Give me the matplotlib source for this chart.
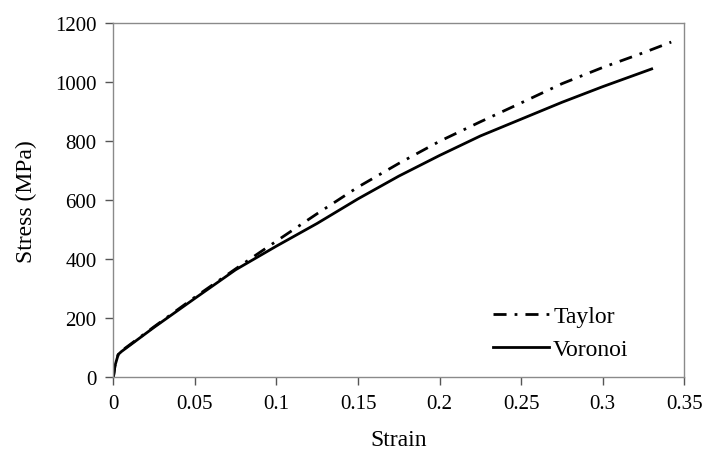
import numpy as np
import matplotlib
matplotlib.use("Agg")
import matplotlib.pyplot as plt

plt.rcParams['font.family'] = ['Liberation Serif', 'DejaVu Serif']

# values
strain_taylor = [0, 0.001, 0.003, 0.005, 0.025, 0.05, 0.075, 0.1, 0.125, 0.15,
                 0.175, 0.2, 0.225, 0.25, 0.275, 0.3, 0.325, 0.342]
stress_taylor = [0, 40, 78, 90, 172, 272, 368, 462, 555, 645,
                 725, 800, 866, 930, 995, 1050, 1100, 1136]

strain_voronoi = [0, 0.001, 0.003, 0.005, 0.025, 0.05, 0.075, 0.1, 0.125, 0.15,
                  0.175, 0.2, 0.225, 0.25, 0.275, 0.3, 0.33]
stress_voronoi = [0, 40, 78, 88, 170, 268, 365, 445, 522, 605,
                  682, 752, 818, 875, 932, 985, 1045]

xticks = [0, 0.05, 0.1, 0.15, 0.2, 0.25, 0.3, 0.35]
xtick_labels = ["0", "0.05", "0.1", "0.15", "0.2", "0.25", "0.3", "0.35"]
yticks = [0, 200, 400, 600, 800, 1000, 1200]

fig = plt.figure(figsize=(7.04, 4.56), dpi=100)
ax = fig.add_axes([0.161, 0.170, 0.811, 0.777])

ax.plot(strain_taylor, stress_taylor, color='black', lw=2.0,
        linestyle=(0, (4.7, 2.9, 1.0, 2.9)), label='Taylor')
ax.plot(strain_voronoi, stress_voronoi, color='black', lw=2.0,
        linestyle='-', label='Voronoi')

ax.set_xlim(0, 0.35)
ax.set_ylim(0, 1200)
ax.set_xticks(xticks)
ax.set_xticklabels(xtick_labels)
ax.set_yticks(yticks)

for s in ax.spines.values():
    s.set_color('#8a8a8a')
    s.set_linewidth(1.0)

ax.tick_params(axis='both', direction='out', length=6, width=1,
               color='#555555', labelsize=15, pad=6)
ax.tick_params(top=False, right=False)

ax.set_xlabel('Strain', fontsize=17, va='center')
ax.set_ylabel('Stress (MPa)', fontsize=17, va='center')
ax.xaxis.set_label_coords(0.5, -0.174)
ax.yaxis.set_label_coords(-0.152, 0.5)

leg = ax.legend(loc='upper left', bbox_to_anchor=(0.665, 0.203), frameon=False,
                fontsize=17, handlelength=2.35, handletextpad=0.2,
                labelspacing=0.5, borderpad=0, borderaxespad=0)

fig.savefig('out.png', dpi=100)
